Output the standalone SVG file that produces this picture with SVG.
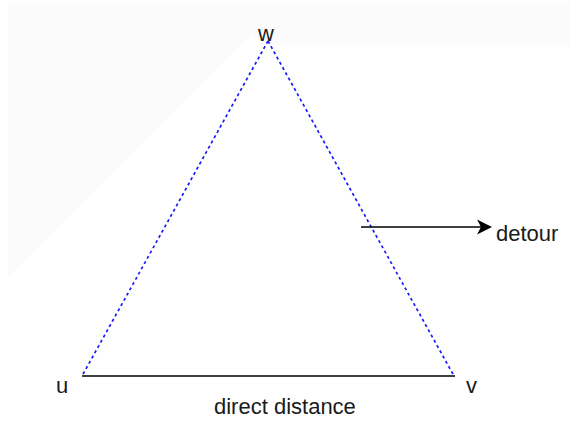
<svg xmlns="http://www.w3.org/2000/svg" width="570" height="428" viewBox="0 0 570 428">
  <style>
    .lbl { font-family: "Liberation Sans", Arial, Helvetica, sans-serif; font-size: 22px; fill: #1a1a1a; }
    .dash { stroke: #1a1aff; stroke-width: 1.7; stroke-dasharray: 3 3; fill: none; }
    .solid { stroke: #000; stroke-width: 1.6; fill: none; }
  </style>
  <rect x="0" y="0" width="570" height="428" fill="#ffffff"/>
  <polygon points="8,3 570,3 570,45 262,45 253,33 8,277" fill="#fbfbfc"/>
  <g id="connectors">
    <line class="solid" x1="82" y1="376" x2="455" y2="376"/>
    <line class="dash" x1="268" y1="41" x2="82" y2="376"/>
    <line class="dash" x1="268" y1="41" x2="454" y2="376"/>
    <line class="solid" x1="361" y1="227" x2="482" y2="227"/>
    <path d="M492,227 L477,219.5 L481,227 L477,234.5 Z" fill="#000"/>
  </g>
  <g id="node-w"><text class="lbl" x="258" y="41">w</text></g>
  <g id="node-u"><text class="lbl" x="56" y="393">u</text></g>
  <g id="node-v"><text class="lbl" x="466" y="393">v</text></g>
  <g id="label-detour"><text class="lbl" x="496" y="241">detour</text></g>
  <g id="label-direct"><text class="lbl" x="214" y="414">direct distance</text></g>
</svg>
